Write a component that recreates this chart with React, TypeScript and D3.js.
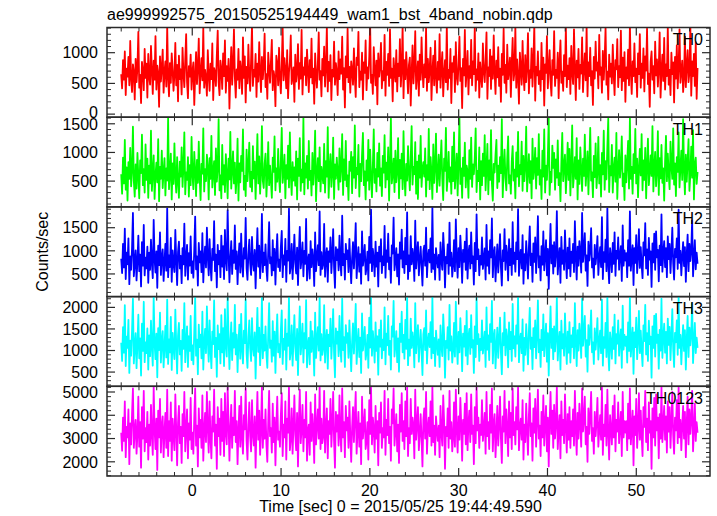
import React from 'react';
import * as d3 from 'd3';

const TITLE = 'ae999992575_20150525194449_wam1_bst_4band_nobin.qdp';
const X_LABEL = 'Time [sec] 0 = 2015/05/25 19:44:49.590';
const Y_LABEL = 'Counts/sec';
const T0 = -8.0;
const DT = 0.1015625;
const X_TICKS = [0, 10, 20, 30, 40, 50];

const th0 = [
  650, 420, 880, 560, 1020, 310, 740, 610, 930, 470, 1190, 580, 360, 810, 690, 240,
  900, 520, 760, 1340, 430, 640, 180, 850, 700, 390, 1060, 590, 820, 270, 980, 620,
  480, 1110, 710, 330, 870, 560, 1270, 400, 790, 660, 120, 940, 530, 760, 1050, 350,
  690, 860, 450, 1420, 600, 290, 830, 510, 990, 720, 380, 640, 1160, 470, 800, 210,
  950, 570, 730, 320, 1080, 660, 440, 890, 1300, 520, 260, 780, 610, 970, 400, 700,
  840, 150, 620, 1010, 490, 760, 1230, 340, 680, 910, 550, 1400, 430, 720, 590, 300,
  1040, 640, 380, 820, 570, 1150, 230, 750, 680, 460, 960, 1360, 520, 310, 870, 730,
  410, 990, 620, 1200, 350, 780, 540, 900, 90, 660, 1090, 480, 810, 1380, 600, 270,
  730, 560, 1060, 420, 860, 700, 330, 1250, 590, 940, 190, 770, 500, 1130, 640, 380,
  880, 1440, 460, 720, 610, 980, 280, 820, 530, 1170, 690, 360, 930, 570, 800, 1310,
  440, 650, 250, 1000, 740, 510, 860, 1210, 390, 700, 600, 130, 950, 820, 470, 1080,
  590, 340, 790, 1410, 550, 910, 710, 420, 1040, 260, 680, 850, 1280, 490, 620, 760,
  200, 970, 530, 690, 1140, 410, 830, 580, 1370, 320, 760, 640, 920, 470, 1050, 710,
  360, 880, 600, 1230, 500, 740, 170, 990, 650, 430, 810, 1330, 560, 700, 290, 900,
  630, 1100, 450, 780, 1420, 370, 850, 540, 960, 230, 720, 610, 1180, 480, 830, 680,
  310, 1020, 570, 890, 660, 1260, 400, 750, 110, 940, 600, 1390, 520, 770, 350, 860,
  710, 480, 1070, 620, 280, 920, 800, 1340, 440, 690, 560, 1000, 240, 840, 670, 1200,
  390, 760, 580, 930, 1450, 510, 640, 330, 1090, 720, 470, 870, 160, 990, 610, 780,
  1160, 420, 700, 550, 1290, 300, 850, 640, 980, 460, 1380, 590, 740, 210, 910, 680,
  530, 1040, 370, 820, 620, 1220, 450, 760, 1430, 260, 880, 570, 1010, 690, 340, 800,
  920, 140, 670, 1120, 500, 780, 1350, 410, 640, 860, 300, 970, 560, 1250, 720, 440,
  810, 600, 1400, 380, 900, 520, 740, 1080, 230, 690, 950, 470, 1190, 620, 350, 850,
  560, 1300, 430, 760, 1010, 290, 660, 880, 520, 1440, 400, 720, 590, 1060, 180, 830,
  690, 940, 360, 1170, 610, 480, 820, 1260, 540, 750, 100, 900, 630, 1370, 450, 700,
  1030, 320, 780, 590, 1210, 470, 860, 650, 1420, 380, 730, 560, 990, 270, 840, 610,
  440, 1150, 700, 520, 880, 1330, 250, 760, 620, 1050, 410, 940, 580, 1280, 690, 330,
  870, 600, 1090, 460, 740, 200, 980, 640, 1390, 510, 800, 350, 1130, 570, 720, 920,
  280, 830, 1240, 550, 680, 1410, 430, 890, 610, 170, 1000, 740, 480, 1190, 660, 390,
  960, 520, 780, 1320, 340, 710, 590, 1070, 450, 860, 1440, 220, 770, 630, 1020, 490,
  700, 380, 1160, 570, 920, 140, 810, 670, 1270, 420, 750, 1040, 530, 300, 880, 640,
  1350, 460, 720, 590, 1000, 260, 850, 1200, 510, 690, 380, 960, 620, 1420, 440, 790,
  570, 910, 330, 1110, 680, 490, 1380, 750, 230, 870, 600, 1060, 410, 800, 660, 1250,
  360, 730, 990, 550, 1430, 290, 840, 620, 1080, 470, 700, 150, 930, 580, 1180, 710,
  840, 420, 1290, 640, 760, 350, 1030, 560, 890, 1400, 480, 690, 240, 970, 610, 820,
  500, 1130, 660, 310, 880, 730, 1220, 440, 780, 600, 1360, 390, 920, 540, 1010, 200,
  760, 580, 1050, 470, 1450, 690, 330, 860, 620, 1150, 520, 740, 280, 990, 650, 1300,
  430, 820, 590, 1070, 370, 940, 710, 1390, 490, 660, 120, 850, 1020, 560, 780, 340,
  1180, 630, 890, 450, 760, 1330, 270, 700, 970, 540, 1240, 400, 810, 620, 1420, 480,
  720, 310, 1000, 650, 840, 190, 930, 580, 1120, 420, 770, 1380, 510, 690, 870, 360,
  600, 1260, 440, 790, 1040, 520, 680, 1440, 300, 860, 620, 980, 460, 1170, 250, 750,
];

const th1 = [
  620, 280, 910, 460, 1220, 350, 740, 160, 830, 540, 1080, 410, 680, 1450, 500, 230,
  790, 370, 990, 580, 200, 860, 640, 1310, 430, 710, 300, 1140, 520, 890, 210, 770,
  460, 1380, 330, 660, 950, 190, 600, 820, 480, 1230, 150, 750, 540, 1030, 380, 670,
  900, 250, 720, 510, 1600, 360, 630, 980, 180, 810, 450, 1160, 590, 300, 920, 490,
  210, 840, 580, 1090, 400, 760, 1350, 270, 650, 520, 920, 230, 780, 430, 1270, 610,
  360, 1010, 690, 240, 870, 470, 1190, 550, 170, 800, 630, 1420, 320, 710, 500, 960,
  750, 180, 900, 540, 1290, 390, 660, 850, 260, 1070, 490, 730, 1580, 340, 600, 200,
  1130, 440, 780, 310, 970, 620, 200, 890, 530, 1360, 370, 700, 1020, 460, 820, 290,
  570, 1240, 160, 810, 480, 940, 680, 1400, 350, 590, 240, 1050, 500, 760, 1170, 400,
  660, 320, 1110, 550, 840, 190, 720, 1320, 460, 930, 280, 640, 1460, 510, 380, 800,
  980, 230, 610, 1180, 430, 770, 520, 210, 910, 660, 1280, 340, 720, 490, 1060, 580,
  310, 860, 1430, 470, 650, 960, 200, 780, 540, 1120, 390, 1350, 620, 260, 830, 510,
  740, 420, 1020, 180, 890, 590, 1250, 330, 700, 480, 1600, 270, 810, 560, 940, 370,
  1200, 520, 680, 250, 990, 440, 760, 1380, 150, 630, 900, 500, 1090, 320, 750, 600,
  460, 1150, 300, 850, 580, 1440, 210, 720, 970, 400, 660, 1260, 190, 790, 540, 910,
  640, 350, 1070, 490, 770, 1320, 260, 880, 520, 1200, 410, 600, 170, 840, 680, 1010,
  290, 920, 560, 1470, 380, 730, 620, 1130, 230, 800, 500, 960, 1340, 430, 670, 180,
  860, 510, 1220, 350, 1050, 600, 220, 770, 1400, 470, 710, 320, 990, 580, 1160, 420,
  720, 240, 940, 650, 1300, 390, 820, 530, 1090, 160, 760, 1590, 460, 630, 890, 310,
  1030, 480, 690, 1250, 200, 870, 550, 980, 360, 1370, 590, 250, 800, 510, 1110, 660,
  340, 900, 1460, 440, 750, 620, 1180, 280, 840, 190, 950, 560, 1290, 400, 700, 830,
  580, 1070, 230, 780, 520, 1410, 360, 920, 640, 190, 1140, 470, 760, 1330, 310, 610,
  960, 420, 810, 1210, 540, 170, 890, 680, 1430, 330, 600, 1010, 490, 740, 280, 1100,
  500, 1350, 370, 660, 980, 250, 830, 1600, 450, 720, 210, 910, 590, 1170, 390, 770,
  670, 210, 1040, 540, 1260, 400, 790, 620, 900, 1420, 310, 680, 500, 1090, 180, 850,
  430, 980, 590, 1300, 340, 730, 1150, 270, 860, 520, 1390, 460, 160, 800, 650, 960,
  1220, 380, 770, 490, 920, 640, 1580, 220, 710, 1050, 550, 340, 890, 1280, 460, 600,
  280, 840, 1110, 510, 700, 200, 1000, 580, 1360, 410, 780, 620, 1190, 330, 940, 500,
  760, 1450, 320, 650, 970, 470, 850, 200, 1240, 540, 720, 1080, 370, 900, 610, 1320,
  440, 690, 190, 1030, 580, 1400, 300, 770, 520, 930, 1600, 260, 660, 480, 1120, 730,
  990, 350, 880, 560, 1210, 430, 640, 150, 820, 1340, 500, 750, 960, 290, 680, 1170,
  520, 1060, 250, 790, 1470, 390, 610, 920, 540, 1250, 180, 860, 450, 1090, 720, 330,
  890, 590, 1310, 420, 700, 1020, 270, 830, 1430, 510, 650, 220, 940, 570, 1160, 380,
  670, 1270, 460, 780, 230, 990, 620, 1380, 350, 850, 530, 1100, 1590, 310, 760, 600,
  1130, 300, 720, 910, 490, 1340, 190, 690, 1040, 560, 800, 1280, 410, 630, 170, 950,
  480, 820, 1200, 370, 1600, 540, 750, 280, 970, 640, 1410, 460, 890, 220, 710, 1060,
  600, 1320, 340, 860, 520, 1080, 200, 780, 1240, 430, 660, 950, 590, 1460, 320, 740,
  1010, 410, 680, 1370, 260, 900, 550, 1130, 470, 720, 160, 840, 1290, 500, 980, 630,
  360, 1190, 770, 540, 1420, 440, 810, 240, 920, 660, 1350, 390, 730, 1030, 520, 1580,
  700, 270, 960, 490, 850, 1230, 330, 620, 1100, 560, 1390, 180, 790, 910, 450, 660,
];

const th2 = [
  830, 520, 1150, 640, 1480, 390, 960, 710, 1270, 280, 880, 590, 1060, 1820, 450, 740,
  1010, 360, 780, 1330, 560, 920, 230, 1190, 680, 1560, 470, 850, 620, 1090, 310, 960,
  590, 1240, 740, 410, 1670, 820, 530, 990, 200, 1110, 690, 1400, 480, 870, 1030, 350,
  760, 1150, 570, 1920, 430, 900, 650, 1280, 330, 1010, 730, 540, 1450, 810, 260, 980,
  1200, 620, 890, 300, 1060, 710, 1590, 460, 840, 1130, 380, 950, 680, 1310, 520, 770,
  420, 1020, 1740, 600, 880, 250, 1170, 750, 990, 540, 1380, 320, 830, 1090, 640, 1500,
  870, 470, 1250, 690, 360, 1040, 800, 1640, 560, 920, 210, 1130, 710, 1000, 430, 1330,
  660, 1100, 390, 1450, 790, 580, 1880, 940, 320, 850, 1210, 500, 1010, 740, 1550, 610,
  990, 280, 840, 1160, 530, 1370, 700, 440, 1060, 830, 1710, 620, 370, 930, 1240, 720,
  480, 1300, 760, 570, 1020, 190, 890, 1490, 660, 1110, 410, 800, 1800, 540, 960, 690,
  1140, 620, 350, 980, 1620, 730, 860, 470, 1230, 580, 1040, 270, 920, 1360, 650, 810,
  560, 1080, 1430, 430, 900, 700, 1260, 330, 1000, 790, 1910, 510, 680, 1150, 390, 870,
  1350, 740, 510, 1070, 260, 950, 1520, 620, 830, 1180, 450, 1000, 720, 1690, 360, 780,
  920, 400, 1210, 650, 1030, 820, 240, 1400, 560, 880, 1120, 690, 1850, 480, 970, 610,
  710, 1580, 440, 860, 1060, 330, 990, 760, 1290, 520, 910, 1470, 640, 200, 1080, 800,
  1030, 580, 1330, 750, 470, 1760, 690, 930, 380, 1150, 820, 1010, 540, 1260, 720, 300,
  850, 1190, 620, 1020, 1600, 410, 790, 1080, 550, 930, 290, 1420, 680, 870, 1130, 490,
  640, 980, 360, 1300, 740, 1890, 560, 1040, 820, 450, 1200, 660, 960, 230, 1090, 770,
  1250, 520, 880, 690, 1540, 420, 1010, 760, 1370, 600, 850, 310, 1120, 940, 1720, 580,
  780, 1060, 450, 920, 270, 1180, 830, 1460, 640, 990, 520, 1280, 710, 1830, 390, 900,
  560, 1320, 710, 1040, 870, 350, 1650, 620, 950, 1190, 470, 800, 1090, 660, 250, 1000,
  1110, 680, 1500, 430, 860, 1020, 750, 1270, 540, 1940, 610, 920, 380, 1060, 820, 640,
  910, 370, 1180, 790, 590, 1390, 1000, 210, 870, 730, 1140, 500, 1610, 680, 960, 440,
  700, 1230, 560, 1680, 840, 420, 1060, 650, 1330, 910, 310, 1020, 760, 1200, 590, 1480,
  400, 950, 1110, 620, 1400, 730, 880, 270, 1170, 560, 1790, 820, 1030, 470, 890, 700,
  1290, 610, 830, 1050, 380, 1560, 680, 990, 510, 1230, 860, 1700, 430, 940, 1080, 340,
  770, 1140, 530, 890, 1360, 640, 250, 1010, 780, 1470, 590, 1110, 910, 360, 1250, 690,
  1040, 480, 1620, 720, 960, 550, 1180, 820, 1900, 460, 870, 1020, 620, 1340, 290, 930,
  580, 1210, 850, 400, 1070, 1530, 690, 940, 330, 1160, 760, 1290, 520, 1000, 1750, 640,
  880, 360, 1100, 700, 1420, 580, 900, 1230, 470, 1040, 180, 960, 1580, 730, 1120, 510,
  1190, 660, 940, 1860, 490, 830, 1060, 310, 1300, 720, 1010, 590, 1440, 850, 410, 1070,
  620, 1270, 450, 980, 740, 1150, 540, 1640, 870, 380, 1090, 680, 1210, 950, 530, 1820,
  760, 1030, 1380, 570, 900, 240, 1200, 790, 1010, 1490, 640, 830, 420, 1130, 710, 960,
  1320, 480, 850, 1080, 650, 1730, 390, 970, 760, 1240, 560, 1920, 700, 300, 1060, 880,
  540, 1170, 720, 1400, 460, 1000, 830, 1290, 590, 920, 1100, 350, 1550, 680, 1010, 790,
  950, 430, 1230, 680, 1850, 570, 880, 1120, 260, 1060, 740, 1340, 520, 900, 1470, 630,
  1080, 700, 410, 1180, 900, 1600, 620, 1030, 480, 1280, 810, 990, 220, 1160, 750, 1370,
  590, 1420, 860, 1020, 340, 1110, 690, 1790, 550, 940, 1210, 650, 1060, 430, 1310, 820,
  1150, 520, 970, 1500, 730, 380, 1040, 860, 1270, 610, 1890, 740, 1000, 470, 880, 1190,
  670, 1080, 330, 920, 1350, 560, 1150, 780, 1010, 1660, 450, 870, 1230, 600, 960, 720,
];

const th3 = [
  1180, 760, 1540, 950, 2050, 640, 1320, 1060, 1710, 480, 1230, 880, 1460, 2200, 700, 1090,
  1400, 590, 1150, 1830, 820, 1280, 420, 1620, 990, 2130, 730, 1190, 940, 1510, 560, 1350,
  870, 1690, 1080, 650, 2240, 1170, 800, 1390, 380, 1520, 1010, 1880, 720, 1240, 1450, 610,
  1100, 1570, 840, 2180, 690, 1260, 960, 1780, 550, 1410, 1060, 800, 1950, 1150, 470, 1340,
  1640, 910, 1220, 530, 1480, 1040, 2100, 730, 1190, 1560, 620, 1330, 990, 1800, 780, 1120,
  680, 1420, 2220, 880, 1250, 450, 1600, 1080, 1370, 820, 1900, 560, 1170, 1500, 940, 2020,
  1230, 740, 1700, 1010, 590, 1440, 1150, 2160, 850, 1290, 390, 1580, 1030, 1380, 700, 1820,
  960, 1520, 640, 1960, 1120, 860, 2240, 1300, 570, 1210, 1650, 780, 1400, 1070, 2060, 910,
  1370, 500, 1180, 1600, 810, 1850, 1020, 700, 1460, 1170, 2190, 930, 600, 1310, 1700, 1050,
  760, 1750, 1080, 880, 1420, 350, 1260, 1990, 970, 1530, 660, 1140, 2230, 820, 1360, 1000,
  1560, 920, 600, 1350, 2100, 1060, 1230, 740, 1680, 880, 1440, 480, 1290, 1840, 960, 1150,
  840, 1470, 1930, 690, 1270, 1020, 1720, 560, 1390, 1110, 2240, 790, 990, 1580, 650, 1240,
  1820, 1080, 780, 1500, 430, 1330, 2020, 910, 1190, 1620, 720, 1400, 1050, 2170, 610, 1120,
  1290, 680, 1670, 970, 1450, 1160, 420, 1880, 830, 1260, 1540, 1000, 2240, 770, 1380, 900,
  1050, 2050, 720, 1220, 1480, 580, 1370, 1100, 1740, 810, 1290, 1960, 940, 380, 1510, 1160,
  1440, 870, 1800, 1070, 740, 2200, 1010, 1310, 620, 1590, 1180, 1400, 830, 1700, 1060, 520,
  1210, 1630, 930, 1420, 2080, 690, 1130, 1500, 850, 1300, 480, 1860, 1000, 1240, 1550, 790,
  960, 1360, 600, 1760, 1070, 2240, 880, 1450, 1150, 720, 1650, 990, 1330, 440, 1480, 1090,
  1700, 820, 1250, 1010, 2000, 680, 1390, 1120, 1800, 900, 1220, 560, 1560, 1320, 2150, 860,
  1130, 1450, 730, 1280, 510, 1620, 1200, 1900, 960, 1360, 810, 1710, 1040, 2220, 660, 1250,
  880, 1740, 1060, 1420, 1220, 610, 2100, 940, 1330, 1590, 740, 1140, 1480, 1000, 430, 1380,
  1520, 1010, 1930, 700, 1210, 1390, 1080, 1660, 820, 2240, 940, 1290, 640, 1460, 1160, 900,
  1260, 620, 1580, 1110, 870, 1840, 1370, 370, 1220, 1060, 1540, 790, 2060, 1000, 1330, 720,
  1030, 1640, 860, 2130, 1200, 690, 1430, 960, 1750, 1260, 520, 1390, 1090, 1570, 880, 1920,
  680, 1310, 1500, 920, 1820, 1070, 1240, 480, 1560, 850, 2240, 1150, 1380, 760, 1270, 1010,
  1700, 930, 1180, 1440, 620, 2000, 1020, 1350, 780, 1610, 1200, 2150, 700, 1300, 1480, 590,
  1090, 1530, 830, 1260, 1760, 950, 450, 1400, 1120, 1880, 890, 1490, 1270, 610, 1650, 1030,
  1430, 760, 2080, 1050, 1330, 860, 1580, 1160, 2240, 730, 1220, 1390, 940, 1720, 530, 1290,
  900, 1610, 1190, 680, 1450, 1990, 1040, 1300, 570, 1520, 1080, 1700, 820, 1360, 2160, 960,
  1250, 620, 1480, 1010, 1840, 870, 1270, 1620, 740, 1400, 420, 1330, 2020, 1060, 1500, 800,
  1560, 980, 1310, 2240, 770, 1170, 1430, 560, 1690, 1050, 1380, 880, 1860, 1200, 690, 1440,
  950, 1660, 720, 1350, 1080, 1530, 820, 2100, 1220, 640, 1470, 1000, 1620, 1290, 830, 2200,
  1110, 1420, 1800, 860, 1240, 510, 1590, 1130, 1400, 1930, 960, 1190, 690, 1510, 1020, 1330,
  1750, 790, 1210, 1460, 940, 2180, 650, 1310, 1060, 1640, 850, 2240, 1000, 540, 1420, 1200,
  810, 1540, 1040, 1830, 700, 1380, 1160, 1700, 880, 1270, 1490, 600, 2040, 1020, 1360, 1110,
  1320, 720, 1650, 990, 2240, 860, 1230, 1530, 460, 1420, 1080, 1760, 800, 1250, 1920, 940,
  1460, 1010, 640, 1580, 1220, 2060, 910, 1400, 760, 1690, 1150, 1320, 370, 1560, 1060, 1810,
  860, 1850, 1180, 1370, 580, 1480, 1000, 2200, 830, 1290, 1620, 950, 1430, 700, 1740, 1130,
  1550, 780, 1320, 1960, 1040, 620, 1410, 1190, 1700, 900, 2240, 1060, 1360, 680, 1220, 1590,
  990, 1470, 560, 1260, 1800, 850, 1530, 1120, 1380, 2100, 710, 1180, 1640, 940, 1300, 1060,
];

const th0123 = [
  3250, 2480, 3900, 2900, 4600, 2200, 3500, 3050, 4250, 1900, 3650, 2750, 4050, 5150, 2600, 3350,
  3800, 2350, 3200, 4800, 2650, 3700, 1750, 4350, 3000, 5050, 2450, 3450, 2850, 4150, 2100, 3600,
  2700, 4450, 3150, 2300, 5200, 3400, 2550, 3850, 1650, 4200, 3050, 4700, 2400, 3550, 3950, 2200,
  3300, 4100, 2600, 5100, 2250, 3750, 2900, 4550, 2050, 3850, 3150, 2500, 4900, 3400, 1850, 3700,
  4400, 2800, 3500, 1950, 4050, 3100, 5000, 2450, 3350, 4250, 2150, 3650, 2950, 4750, 2550, 3250,
  2350, 3900, 5150, 2700, 3550, 1800, 4300, 3050, 3800, 2600, 4850, 2050, 3350, 4100, 2850, 5000,
  3450, 2400, 4600, 3000, 2150, 3950, 3300, 5100, 2700, 3600, 1700, 4350, 3100, 3850, 2300, 4700,
  2900, 4150, 2250, 4950, 3250, 2750, 5200, 3700, 2050, 3450, 4450, 2600, 3900, 3150, 5050, 2850,
  3750, 1900, 3350, 4400, 2650, 4800, 3050, 2350, 4000, 3400, 5150, 2900, 2100, 3600, 4550, 3100,
  2450, 4650, 3200, 2700, 3950, 1750, 3500, 5000, 2950, 4200, 2300, 3350, 5200, 2600, 3800, 3000,
  4250, 2750, 2000, 3700, 5050, 3100, 3450, 2400, 4500, 2850, 3900, 1850, 3550, 4800, 2950, 3300,
  2650, 4000, 4950, 2250, 3600, 3050, 4600, 2100, 3850, 3250, 5200, 2500, 3000, 4300, 2350, 3550,
  4850, 3150, 2500, 4100, 1800, 3750, 5100, 2800, 3400, 4450, 2450, 3800, 3050, 5000, 2050, 3350,
  3600, 2300, 4550, 2900, 4050, 3350, 1950, 4900, 2750, 3550, 4250, 3000, 5200, 2550, 3850, 2800,
  3100, 5050, 2400, 3450, 4300, 2150, 3750, 3200, 4700, 2650, 3600, 5000, 2900, 1750, 4150, 3300,
  4000, 2700, 4850, 3150, 2450, 5150, 3050, 3700, 2200, 4400, 3350, 3900, 2600, 4600, 3100, 2000,
  3500, 4350, 2850, 3950, 5000, 2350, 3300, 4150, 2650, 3650, 1900, 4800, 3000, 3550, 4250, 2550,
  2900, 3700, 2100, 4650, 3200, 5200, 2750, 3900, 3400, 2400, 4400, 3000, 3750, 1850, 4100, 3250,
  4550, 2600, 3450, 3050, 5050, 2300, 3800, 3150, 4700, 2800, 3500, 2050, 4250, 3650, 5150, 2700,
  3350, 4050, 2450, 3600, 1950, 4450, 3300, 4950, 2900, 3750, 2550, 4600, 3100, 5200, 2250, 3450,
  2800, 4700, 3200, 3900, 3550, 2150, 5100, 2950, 3650, 4350, 2500, 3150, 4050, 3000, 1800, 3800,
  4300, 3000, 5000, 2350, 3450, 3900, 3100, 4600, 2700, 5200, 2850, 3550, 2300, 3950, 3350, 2900,
  3550, 2200, 4400, 3250, 2700, 4850, 3750, 1700, 3500, 3100, 4300, 2600, 5050, 3000, 3700, 2450,
  3050, 4550, 2650, 5100, 3400, 2400, 3950, 2950, 4750, 3600, 2050, 3800, 3200, 4500, 2750, 4950,
  2500, 3650, 4200, 2850, 4900, 3200, 3550, 1900, 4350, 2800, 5200, 3350, 3900, 2600, 3600, 3150,
  4650, 2900, 3400, 4100, 2350, 5000, 3100, 3700, 2550, 4450, 3250, 5150, 2450, 3600, 4050, 2200,
  3200, 4400, 2700, 3550, 4800, 3000, 1950, 3950, 3300, 5050, 2800, 4250, 3450, 2250, 4600, 3050,
  4100, 2550, 5150, 3150, 3700, 2750, 4350, 3400, 5200, 2500, 3500, 3850, 2950, 4650, 2100, 3600,
  2850, 4500, 3350, 2300, 4000, 4950, 3100, 3650, 2050, 4300, 3250, 4700, 2650, 3800, 5100, 3000,
  3550, 2250, 4150, 3050, 4850, 2700, 3600, 4400, 2450, 3900, 1800, 3700, 5000, 3200, 4200, 2600,
  4450, 3000, 3650, 5200, 2550, 3400, 4000, 2150, 4600, 3150, 3800, 2800, 4900, 3500, 2400, 4050,
  2950, 4350, 2600, 3750, 3100, 4250, 2700, 5050, 3450, 2300, 4100, 3000, 4500, 3650, 2650, 5150,
  3300, 3850, 4800, 2750, 3500, 2000, 4300, 3200, 3900, 5000, 2900, 3450, 2350, 4150, 3100, 3700,
  4750, 2650, 3350, 4000, 2950, 5200, 2300, 3600, 3100, 4450, 2700, 5100, 3250, 2100, 4000, 3400,
  2750, 4400, 3050, 4850, 2450, 3800, 3300, 4550, 2800, 3550, 4150, 2250, 5000, 3050, 3750, 3250,
  3750, 2500, 4500, 3000, 5150, 2750, 3450, 4200, 1850, 3950, 3150, 4700, 2600, 3500, 4950, 2950,
  4200, 3100, 2250, 4350, 3500, 5050, 2850, 3850, 2500, 4550, 3250, 3750, 1700, 4300, 3050, 4750,
  2700, 4900, 3350, 3900, 2150, 4050, 3000, 5200, 2850, 3600, 4400, 2950, 3950, 2400, 4600, 3300,
  4350, 2600, 3700, 5000, 3150, 2350, 3900, 3350, 4650, 2800, 5200, 3050, 3800, 2500, 3550, 4400,
  3000, 4150, 2200, 3650, 4800, 2750, 4250, 3200, 3850, 5050, 2450, 3400, 4500, 2900, 3700, 3250,
];

const panelNames = ['TH0', 'TH1', 'TH2', 'TH3', 'TH0123'];
const panelData = [th0, th1, th2, th3, th0123];
const panelDomains: [number, number][] = [[-50, 1410], [50, 1615], [10, 1950], [170, 2250], [1390, 5245]];
const panelTicks = [[0, 500, 1000], [500, 1000, 1500], [500, 1000, 1500], [500, 1000, 1500, 2000], [2000, 3000, 4000, 5000]];
const panelMinor = [100, 100, 100, 100, 200];
const panelColors = ['#ff0000', '#00ff00', '#0000ff', '#00ffff', '#ff00ff'];

const W = 717, H = 516;
const L = 107, R = 710, TOP = 27.5, BOTTOM = 476;
const FONT = '"Liberation Sans", Arial, Helvetica, sans-serif';
const AXIS = '#2a2a2a';

export default function App() {
  const x = d3.scaleLinear().domain([-9.6, 58.3]).range([L, R]);
  const ph = (BOTTOM - TOP) / panelNames.length;
  const xMinor = d3.range(-8, 58, 2).filter((v) => v % 10 !== 0);
  const xMajor = d3.range(0, 60, 10);

  return (
    <svg width={W} height={H} style={{ position: 'absolute', left: 0, top: 0, background: '#fff' }}
      fontFamily={FONT}>
      <defs>
        {panelNames.map((n, i) => (
          <clipPath id={`clip${i}`} key={n}>
            <rect x={L} y={TOP + i * ph} width={R - L} height={ph} />
          </clipPath>
        ))}
      </defs>
      <text x={L} y={20} fontSize={16} fill="#000">{TITLE}</text>
      {panelNames.map((name, i) => {
        const y0 = TOP + i * ph;
        const y1 = y0 + ph;
        const y = d3.scaleLinear().domain(panelDomains[i]).range([y1, y0]);
        const data = panelData[i];
        const line = d3.line<number>()
          .x((_, k) => x(T0 + k * DT))
          .y((d) => y(d));
        const [d0, d1] = panelDomains[i];
        const minors = d3.range(Math.ceil(d0 / panelMinor[i]) * panelMinor[i], d1, panelMinor[i])
          .filter((v) => !panelTicks[i].includes(v));
        return (
          <g key={name}>
            <path d={line(data) || ''} fill="none" stroke={panelColors[i]} strokeWidth={1.8}
              strokeLinejoin="round" clipPath={`url(#clip${i})`} />
            {minors.map((v) => (
              <g key={'m' + v}>
                <line x1={L} x2={L + 4} y1={y(v)} y2={y(v)} stroke={AXIS} strokeWidth={1} />
                <line x1={R} x2={R - 4} y1={y(v)} y2={y(v)} stroke={AXIS} strokeWidth={1} />
              </g>
            ))}
            {panelTicks[i].map((v) => (
              <g key={'M' + v}>
                <line x1={L} x2={L + 8} y1={y(v)} y2={y(v)} stroke={AXIS} strokeWidth={1.2} />
                <line x1={R} x2={R - 8} y1={y(v)} y2={y(v)} stroke={AXIS} strokeWidth={1.2} />
                <text x={98} y={Math.min(y(v), y1 - 5)} dy="0.36em" textAnchor="end" fontSize={16}
                  fill="#000">{v}</text>
              </g>
            ))}
            {xMinor.map((v) => (
              <g key={'xm' + v}>
                <line x1={x(v)} x2={x(v)} y1={y0} y2={y0 + 4} stroke={AXIS} strokeWidth={1} />
                <line x1={x(v)} x2={x(v)} y1={y1} y2={y1 - 4} stroke={AXIS} strokeWidth={1} />
              </g>
            ))}
            {xMajor.map((v) => (
              <g key={'xM' + v}>
                <line x1={x(v)} x2={x(v)} y1={y0} y2={y0 + 8} stroke={AXIS} strokeWidth={1.2} />
                <line x1={x(v)} x2={x(v)} y1={y1} y2={y1 - 8} stroke={AXIS} strokeWidth={1.2} />
              </g>
            ))}
            <text x={703} y={y0 + 17.5} textAnchor="end" fontSize={16} fill="#000">{name}</text>
            <rect x={L} y={y0} width={R - L} height={ph} fill="none" stroke={AXIS} strokeWidth={1.5} />
          </g>
        );
      })}
      {X_TICKS.map((v) => (
        <text key={v} x={x(v)} y={496} textAnchor="middle" fontSize={16} fill="#000">{v}</text>
      ))}
      <text x={(L + R) / 2 - 8} y={512} textAnchor="middle" fontSize={16} fill="#000">{X_LABEL}</text>
      <text transform={`translate(48, ${(TOP + BOTTOM) / 2}) rotate(-90)`} textAnchor="middle" fontSize={16}
        fill="#000">{Y_LABEL}</text>
    </svg>
  );
}
